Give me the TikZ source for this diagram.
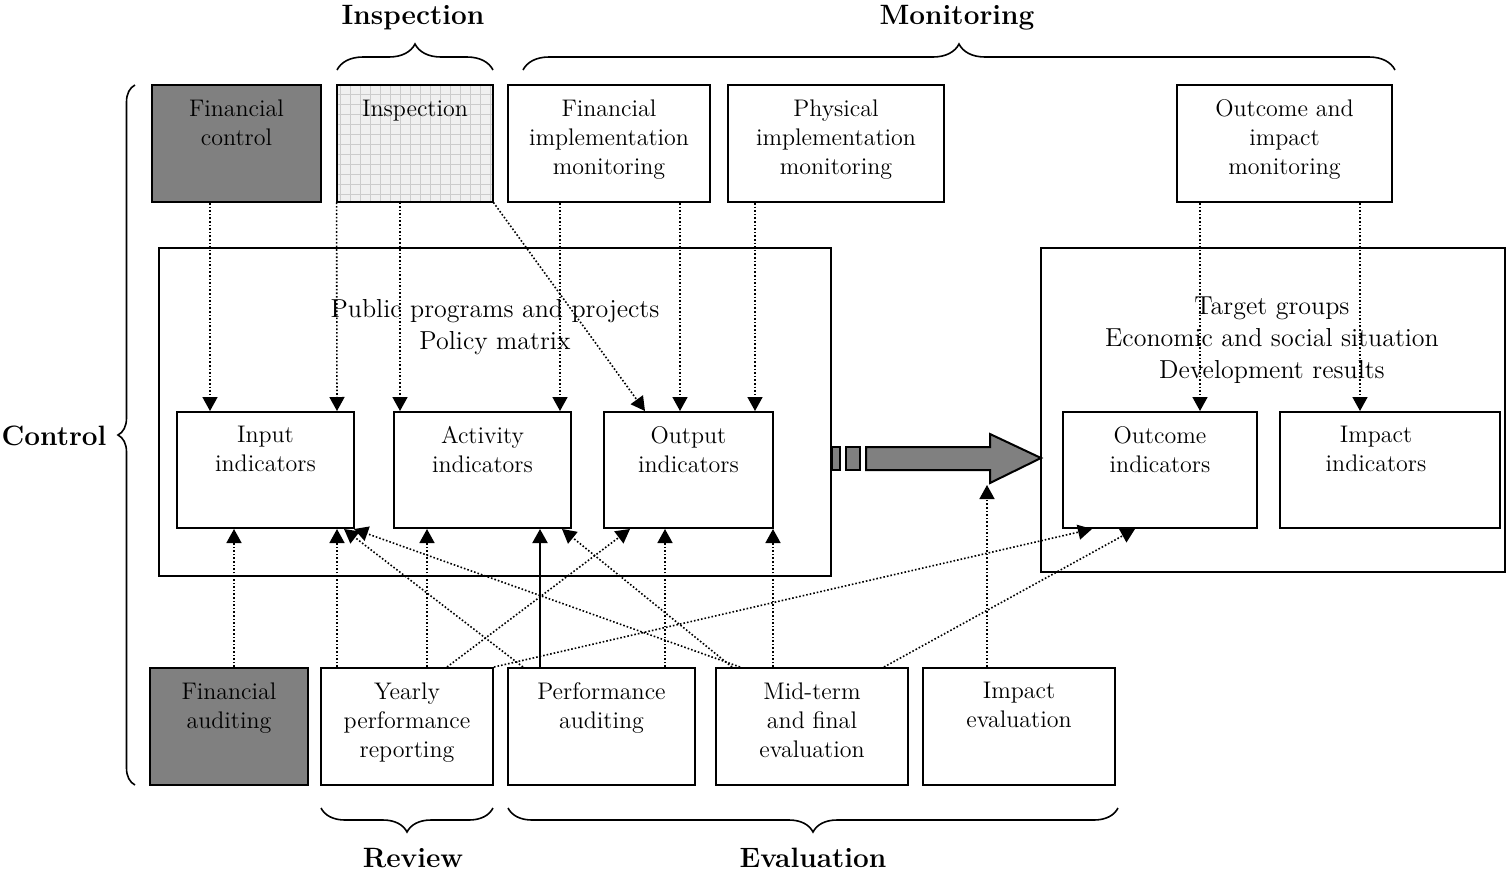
\documentclass[tikz,border=0pt]{standalone}
\usepackage{tikz}
\usetikzlibrary{positioning}
\usetikzlibrary{calc}
\usetikzlibrary{fit}
\usetikzlibrary{patterns.meta}
\usetikzlibrary{arrows.meta}
\usetikzlibrary{decorations.pathreplacing}

\tikzset{
  panel/.style={draw,line width=1pt,inner sep=0pt},
  darkpanel/.style={panel,fill=gray},
  gridpanel/.style={panel,preaction={fill=gray!12},pattern={Hatch[angle=0,distance=5pt,line width=0.4pt]},pattern color=gray!40},
  paneltext/.style={align=center,inner sep=0pt,font=\fontsize{12}{14.5}\selectfont},
  bigtext/.style={align=center,inner sep=0pt,font=\fontsize{13}{16}\selectfont},
  heading/.style={inner sep=0pt,font=\fontsize{14}{16}\selectfont\bfseries},
  dotarrow/.style={line width=0.8pt,dash pattern=on 0.8pt off 1pt,-{Triangle[length=7pt,width=7.5pt]}},
  fullarrow/.style={line width=1pt,-{Triangle[length=7pt,width=7.5pt]}},
  brace/.style={decorate,line width=0.8pt,decoration={brace,amplitude=#1}},
}

\begin{document}
\begin{tikzpicture}[x=0.5pt,y=-0.5pt]
\useasboundingbox (0,0) rectangle (1506,874);

\node[darkpanel,fit={(152,85) (321,202)}] (fc) {};
\node[gridpanel,fit={(337,85) (493,202)}] (insp) {};
\node[panel,fit={(508,85) (710,202)}] (fim) {};
\node[panel,fit={(728,85) (944,202)}] (pim) {};
\node[panel,fit={(1177,85) (1392,202)}] (oim) {};

\node[panel,fit={(159,248) (831,576)}] (progs) {};
\node[panel,fit={(1041,248) (1505,572)}] (target) {};

\node[panel,fill=white,fit={(177,412) (354,528)}] (inp) {};
\node[panel,fill=white,fit={(394,412) (571,528)}] (act) {};
\node[panel,fill=white,fit={(604,412) (773,528)}] (outp) {};
\node[panel,fill=white,fit={(1063,412) (1257,528)}] (outc) {};
\node[panel,fill=white,fit={(1280,412) (1500,528)}] (impi) {};

\node[darkpanel,fit={(150,668) (308,785)}] (fa) {};
\node[panel,fit={(321,668) (493,785)}] (ypr) {};
\node[panel,fit={(508,668) (695,785)}] (pa) {};
\node[panel,fit={(716,668) (908,785)}] (mte) {};
\node[panel,fit={(923,668) (1115,785)}] (ie) {};

\node[paneltext,below=7.5pt of fc.north] (fclbl) {Financial\\control};
\node[paneltext,below=7.5pt of insp.north] (insplbl) {Inspection};
\node[paneltext,below=7.5pt of fim.north] (fimlbl) {Financial\\implementation\\monitoring};
\node[paneltext,below=7.5pt of pim.north] (pimlbl) {Physical\\implementation\\monitoring};
\node[paneltext,below=7.5pt of oim.north] (oimlbl) {Outcome and\\impact\\monitoring};
\node[paneltext,below=7.5pt of inp.north] (inplbl) {Input\\indicators};
\node[paneltext,below=7.5pt of act.north] (actlbl) {Activity\\indicators};
\node[paneltext,below=7.5pt of outp.north] (outplbl) {Output\\indicators};
\node[paneltext,below=7.5pt of outc.north] (outclbl) {Outcome\\indicators};
\node[paneltext,below=7.5pt of impi.north,xshift=-7pt] (impilbl) {Impact\\indicators};
\node[paneltext,below=7.5pt of fa.north] (falbl) {Financial\\auditing};
\node[paneltext,below=7.5pt of ypr.north] (yprlbl) {Yearly\\performance\\reporting};
\node[paneltext,below=7.5pt of pa.north] (palbl) {Performance\\auditing};
\node[paneltext,below=7.5pt of mte.north] (mtelbl) {Mid-term\\and final\\evaluation};
\node[paneltext,below=7.5pt of ie.north] (ielbl) {Impact\\evaluation};

\node[bigtext] (progslbl) at (495,327) {Public programs and projects\\Policy matrix};
\node[bigtext] (targetlbl) at (1272,340) {Target groups\\Economic and social situation\\Development results};

\draw[line width=1pt,fill=gray] (832,447) rectangle (840,470);
\draw[line width=1pt,fill=gray] (846,447) rectangle (860,470);
\draw[line width=1pt,fill=gray] (866,447) -- (990,447) -- (990,434) -- (1041,458) -- (990,483) -- (990,470) -- (866,470) -- cycle;
\coordinate (flowfoot) at (987,485);

\draw[dotarrow] (210,0 |- fc.south) -- (210,0 |- inp.north);
\draw[dotarrow] (insp.south west) -- (337,0 |- inp.north);
\draw[dotarrow] (400,0 |- insp.south) -- (400,0 |- act.north);
\draw[dotarrow] (insp.south east) -- (645,0 |- outp.north);
\draw[dotarrow] (560,0 |- fim.south) -- (560,0 |- act.north);
\draw[dotarrow] (680,0 |- fim.south) -- (680,0 |- outp.north);
\draw[dotarrow] (755,0 |- pim.south) -- (755,0 |- outp.north);
\draw[dotarrow] (1200,0 |- oim.south) -- (1200,0 |- outc.north);
\draw[dotarrow] (1360,0 |- oim.south) -- (1360,0 |- impi.north);

\draw[dotarrow] (234,0 |- fa.north) -- (234,0 |- inp.south);
\draw[dotarrow] (337,0 |- ypr.north) -- (337,0 |- inp.south);
\draw[dotarrow] (427,0 |- ypr.north) -- (427,0 |- act.south);
\draw[dotarrow] (447,0 |- ypr.north) -- (630,0 |- outp.south);
\draw[dotarrow] (ypr.north east) -- (1092,0 |- outc.south);
\draw[fullarrow] (540,0 |- pa.north) -- (540,0 |- act.south);
\draw[dotarrow] (523,0 |- pa.north) -- (344,0 |- inp.south);
\draw[dotarrow] (665,0 |- pa.north) -- (665,0 |- outp.south);
\draw[dotarrow] (740,0 |- mte.north) -- (354,0 |- inp.south);
\draw[dotarrow] (732,0 |- mte.north) -- (562,0 |- act.south);
\draw[dotarrow] (773,0 |- mte.north) -- (773,0 |- outp.south);
\draw[dotarrow] (884,0 |- mte.north) -- (1135,0 |- outc.south);
\draw[dotarrow] (987,0 |- ie.north) -- (flowfoot);

\draw[brace=13pt] (337,70) -- (493,70);
\draw[brace=13pt] (523,70) -- (1395,70);
\draw[brace=12pt] (493,808) -- (321,808);
\draw[brace=12pt] (1118,808) -- (508,808);
\draw[brace=8.5pt] (135,785) -- (135,85);

\node[heading] (insphead) at (413,18) {Inspection};
\node[heading] (monhead) at (957,18) {Monitoring};
\node[heading] (revhead) at (413,858) {Review};
\node[heading] (evalhead) at (813,858) {Evaluation};
\node[heading] (ctrlhead) at (54,436) {Control};
\end{tikzpicture}
\end{document}
